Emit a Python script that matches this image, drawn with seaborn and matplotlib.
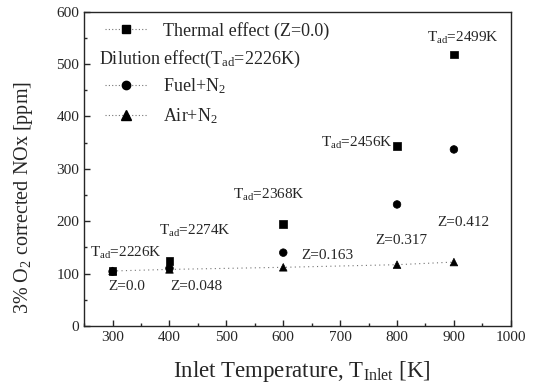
import pandas as pd
import seaborn as sns
import matplotlib.pyplot as plt
from matplotlib.lines import Line2D
from matplotlib.ticker import MultipleLocator

# Data
inlet_temp = [300, 400, 600, 800, 900]
thermal = [105, 124, 195, 344, 518]
fuel_n2 = [104, 110, 140, 232, 337]
air_n2 = [105, 108, 112, 117, 122]

tad_labels = ["T$_{ad}$=2226K", "T$_{ad}$=2274K", "T$_{ad}$=2368K",
              "T$_{ad}$=2456K", "T$_{ad}$=2499K"]
z_labels = ["Z=0.0", "Z=0.048", "Z=0.163", "Z=0.317", "Z=0.412"]

df = pd.DataFrame({
    "T": inlet_temp * 3,
    "NOx": thermal + fuel_n2 + air_n2,
    "case": ["Thermal"] * 5 + ["Fuel"] * 5 + ["Air"] * 5,
})

sns.set_style("ticks")
plt.rcParams["font.family"] = ["Liberation Serif", "DejaVu Serif"]
plt.rcParams["mathtext.fontset"] = "custom"
plt.rcParams["mathtext.rm"] = "Liberation Serif"
plt.rcParams["mathtext.it"] = "Liberation Serif"

fig = plt.figure(figsize=(5.36, 3.89), dpi=100)
ax = fig.add_axes([0.157, 0.162, 0.796, 0.808])

# only the Air+N2 series is joined
sns.lineplot(data=df[df.case == "Air"], x="T", y="NOx", color="0.45",
             lw=0.8, ls=(0, (1, 3)), ax=ax)
sns.scatterplot(data=df, x="T", y="NOx", style="case",
                markers={"Thermal": "s", "Fuel": "o", "Air": "^"},
                color="black", s=30, edgecolor="black", linewidth=0.5,
                legend=False, ax=ax, zorder=3)

# annotations
tad_offsets = [(-40, 35), (-18, 58), (-88, 55), (-134, 6), (-47, 32)]
z_offsets = [(-7, -30), (2, -32), (32, 22), (-38, 47), (-30, 76)]
for x, y, lab, (dx, dy) in zip(inlet_temp, thermal, tad_labels, tad_offsets):
    ax.text(x + dx, y + dy, lab, fontsize=11, va="center")
for x, y, lab, (dx, dy) in zip(inlet_temp, air_n2, z_labels, z_offsets):
    ax.text(x + dx, y + dy, lab, fontsize=11, va="center")

ax.set_xlim(250, 1000)
ax.set_ylim(0, 600)
ax.xaxis.set_major_locator(MultipleLocator(100))
ax.xaxis.set_minor_locator(MultipleLocator(50))
ax.yaxis.set_major_locator(MultipleLocator(100))
ax.yaxis.set_minor_locator(MultipleLocator(50))
ax.tick_params(which="both", direction="in", labelsize=11, width=1)
ax.tick_params(which="major", length=4)
ax.tick_params(which="minor", length=2)
for s in ax.spines.values():
    s.set_linewidth(1)

ax.set_xlabel("Inlet Temperature, T$_{\\mathrm{Inlet}}$ [K]", fontsize=16.5)
ax.set_ylabel("3% O$_2$ corrected NOx [ppm]", fontsize=14.5)
ax.xaxis.set_label_coords(0.51, -0.105)
ax.yaxis.set_label_coords(-0.115, 0.41)

# legend
handles = [
    Line2D([], [], color="0.45", ls=(0, (1, 2)), lw=0.8, marker="s",
           mfc="black", mec="black", ms=6),
    Line2D([], [], ls="none"),
    Line2D([], [], color="0.45", ls=(0, (1, 2)), lw=0.8, marker="o",
           mfc="black", mec="black", ms=6),
    Line2D([], [], color="0.45", ls=(0, (1, 2)), lw=0.8, marker="^",
           mfc="black", mec="black", ms=7),
]
labels = ["Thermal effect (Z=0.0)", " ", "Fuel+N$_2$", "Air+N$_2$"]
ax.legend(handles, labels, loc="upper left", frameon=False, fontsize=13,
          bbox_to_anchor=(0.01, 1.02), handlelength=2.4, labelspacing=0.55,
          handletextpad=0.85)
ax.text(0.035, 0.847, "Dilution effect(T$_{ad}$=2226K)", transform=ax.transAxes,
        fontsize=13, va="center")

fig.savefig("out.png", dpi=100)
